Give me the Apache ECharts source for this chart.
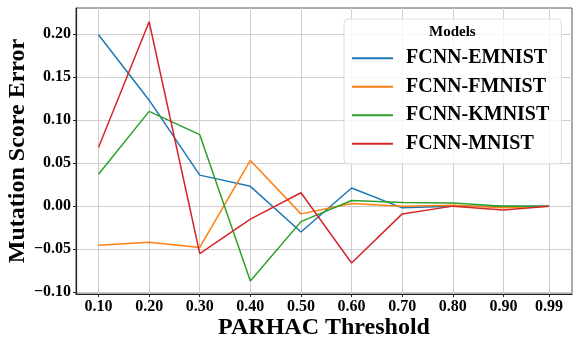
<!DOCTYPE html>
<html>
  <head>
    <meta charset="utf-8">
    <title></title>
    <style media="screen">
    body {margin:0;}
    .box {width:580px; height:348px;}
    </style>
    <script src="https://cdn.jsdelivr.net/npm/echarts@6/dist/echarts.min.js" charset="utf-8"></script>
    <script>
    const thresholds=[0.10, 0.20, 0.30, 0.40, 0.50, 0.60, 0.70, 0.80, 0.90, 0.99];
    const xTicks=['0.10','0.20','0.30','0.40','0.50','0.60','0.70','0.80','0.90','0.99'];
    const yTicks=[-0.10, -0.05, 0.00, 0.05, 0.10, 0.15, 0.20];
    const models=['FCNN-EMNIST','FCNN-FMNIST','FCNN-KMNIST','FCNN-MNIST'];
    const emnist=[0.199, 0.123, 0.036, 0.023, -0.030, 0.021, -0.002, 0.000, 0.000, 0.000];
    const fmnist=[-0.0455, -0.042, -0.048, 0.053, -0.009, 0.003, 0.000, 0.001, -0.002, 0.000];
    const kmnist=[0.037, 0.110, 0.083, -0.087, -0.018, 0.0065, 0.0043, 0.0035, 0.000, 0.000];
    const mnist=[0.068, 0.214, -0.055, -0.015, 0.0155, -0.066, -0.009, 0.000, -0.0046, 0.000];
    const colors=['#1f77b4','#ff7f0e','#2ca02c','#d62728'];

    window.onload=function (){
      const font='"Liberation Serif", "Times New Roman", serif';
      const chart=echarts.init(document.querySelector('.box'));
      const all=[emnist, fmnist, kmnist, mnist];

      let option={
        animation: false,
        color: colors,
        grid: {left: 76, top: 8, right: 8, bottom: 54, show: true, borderColor: '#555', borderWidth: 1, outerBoundsMode: 'none'},
        xAxis: {
          type: 'value',
          min: 0.0555, max: 1.0355,
          name: 'PARHAC Threshold',
          nameLocation: 'middle',
          nameGap: 22,
          nameMoveOverlap: false,
          nameTextStyle: {fontFamily: font, fontWeight: 'bold', fontSize: 24, color: '#000', verticalAlign: 'top'},
          axisLine: {onZero: false, lineStyle: {color: '#222', width: 1.2}},
          axisTick: {show: true, length: 3, customValues: thresholds, lineStyle: {color: '#222'}},
          axisLabel: {
            customValues: thresholds,
            formatter: v=>xTicks[thresholds.indexOf(v)] || '',
            fontFamily: font, fontWeight: 'bold', fontSize: 16, color: '#000', margin: 5
          },
          splitLine: {show: true, lineStyle: {color: '#cfcfcf', width: 1}}
        },
        yAxis: {
          type: 'value',
          min: -0.102, max: 0.230,
          name: 'Mutation Score Error',
          nameLocation: 'middle',
          nameRotate: 90,
          nameGap: 46,
          nameMoveOverlap: false,
          nameTextStyle: {fontFamily: font, fontWeight: 'bold', fontSize: 24, color: '#000'},
          axisLine: {show: true, onZero: false, lineStyle: {color: '#222', width: 1.2}},
          axisTick: {show: true, length: 3, customValues: yTicks, lineStyle: {color: '#222'}},
          axisLabel: {
            customValues: yTicks,
            formatter: v=>v.toFixed(2).replace('-', '\u2212'),
            fontFamily: font, fontWeight: 'bold', fontSize: 16, color: '#000', margin: 5
          },
          splitLine: {show: true, lineStyle: {color: '#cfcfcf', width: 1}}
        },
        legend: {
          orient: 'vertical',
          left: 344, top: 19,
          padding: [29, 12, 10, 8],
          backgroundColor: 'rgba(255,255,255,0.8)',
          borderColor: '#dddddd', borderWidth: 1, borderRadius: 4,
          icon: 'rect',
          itemWidth: 41, itemHeight: 2,
          itemGap: 8,
          textStyle: {fontFamily: font, fontWeight: 'bold', fontSize: 20, color: '#000', padding: [0, 0, 0, 8], lineHeight: 20.5},
          data: models
        },
        graphic: [{
          type: 'text', left: 429, top: 25, z: 100,
          style: {text: 'Models', fontFamily: font, fontWeight: 'bold', fontSize: 15, fill: '#000'}
        }],
        series: models.map((name, i)=>({
          name: name,
          type: 'line',
          symbol: 'none',
          lineStyle: {width: 1.5},
          data: thresholds.map((x, j)=>[x, all[i][j]])
        }))
      };

      chart.setOption(option);
    };
    </script>
  </head>
  <body>
    <div class="box"></div>
  </body>
</html>
